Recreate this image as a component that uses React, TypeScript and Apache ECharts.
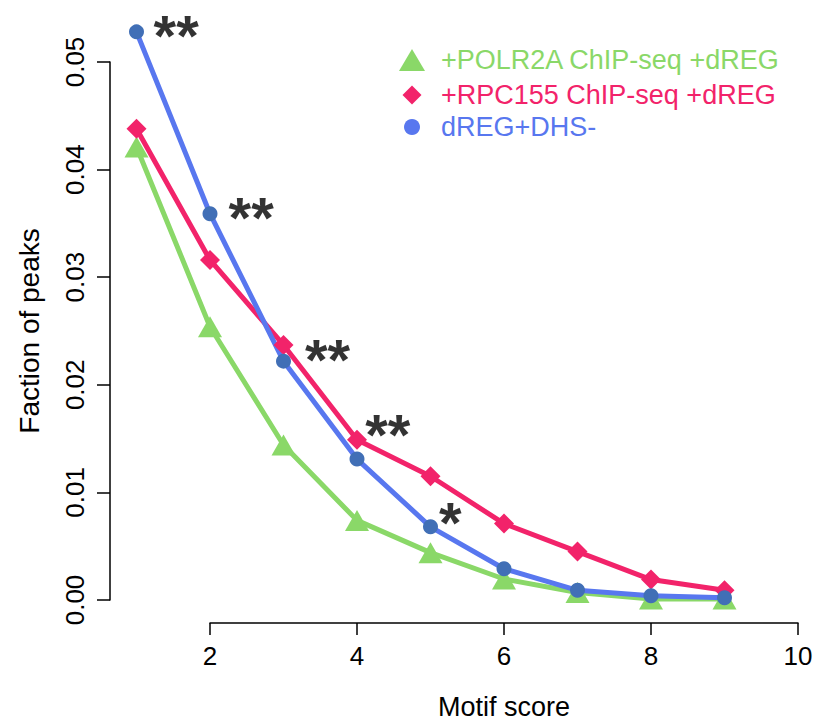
import React, { useEffect, useRef } from "react";
import * as echarts from "echarts";

const motifScores = [1, 2, 3, 4, 5, 6, 7, 8, 9];
const polr2aValues = [0.0421, 0.0254, 0.0144, 0.0074, 0.0044, 0.00195, 0.0007, 0.0001, 0.0001];
const rpc155Values = [0.0438, 0.0316, 0.0237, 0.0149, 0.0115, 0.0071, 0.0045, 0.0019, 0.0009];
const dregDhsValues = [0.0528, 0.0359, 0.0222, 0.0131, 0.0068, 0.0029, 0.0009, 0.0004, 0.0002];
const xTicks = { min: 2, max: 10, interval: 2 };
const yTicks = { min: 0, max: 0.05, interval: 0.01 };
const annotations = [
  { x: 1.54, y: 0.0537, text: "**" },
  { x: 2.56, y: 0.0368, text: "**" },
  { x: 3.6, y: 0.0236, text: "**" },
  { x: 4.42, y: 0.0166, text: "**" },
  { x: 5.27, y: 0.0084, text: "*" },
];
const seriesNames = ["+POLR2A ChIP-seq +dREG", "+RPC155 ChIP-seq +dREG", "dREG+DHS-"];

const GREEN = "#8ad868";
const RED = "#f2236a";
const BLUE = "#5877ef";
const BLUE_DARK = "#416fb6";
const FONT = "Liberation Sans, Arial, sans-serif";

export default function App() {
  const ref = useRef<HTMLDivElement>(null);
  useEffect(() => {
    if (!ref.current) return;
    const chart = echarts.init(ref.current, undefined, { renderer: "svg" });
    const pair = (vals: number[]) => motifScores.map((x, i) => [x, vals[i]]);
    const ICON_CX = 412;
    const TEXT_X = 441;
    const LINE_H = 28;
    const legendItem = (name: string, icon: string, color: string, w: number, h: number, centerY: number) => {
      const left = ICON_CX - w / 2;
      const pad = TEXT_X - (left + w + 5);
      return {
        orient: "vertical",
        left,
        top: centerY - LINE_H / 2,
        itemWidth: w,
        itemHeight: h,
        padding: 0,
        selectedMode: false,
        textStyle: { fontSize: 27, lineHeight: LINE_H, fontFamily: FONT, color, padding: [0, 0, 0, pad] },
        data: [{ name, icon, itemStyle: { color }, textStyle: { color } }],
      };
    };
    chart.setOption({
      animation: false,
      backgroundColor: "#ffffff",
      textStyle: { fontFamily: FONT },
      grid: [
        { left: 136.5, right: 19, top: 8.2, bottom: 121 },
        { left: 210, right: 19, bottom: 98, height: 1 },
        { left: 110, width: 1, top: 62, bottom: 121 },
      ],
      xAxis: [
        { gridIndex: 0, type: "value", min: 1, max: 10, show: false },
        {
          gridIndex: 1,
          type: "value",
          min: xTicks.min,
          max: xTicks.max,
          interval: xTicks.interval,
          position: "bottom",
          axisLine: { show: true, lineStyle: { color: "#000", width: 1.5 } },
          axisTick: { show: true, length: 12, lineStyle: { color: "#000", width: 1.5 } },
          axisLabel: { color: "#000", fontSize: 26, margin: 20, fontFamily: FONT },
          splitLine: { show: false },
          name: "Motif score",
          nameLocation: "middle",
          nameGap: 70,
          nameTextStyle: { color: "#000", fontSize: 27, fontFamily: FONT },
        },
        { gridIndex: 2, type: "value", show: false },
      ],
      yAxis: [
        { gridIndex: 0, type: "value", min: 0, max: 0.055, show: false },
        { gridIndex: 1, type: "value", show: false },
        {
          gridIndex: 2,
          type: "value",
          min: yTicks.min,
          max: yTicks.max,
          interval: yTicks.interval,
          position: "left",
          axisLine: { show: true, lineStyle: { color: "#000", width: 1.5 } },
          axisTick: { show: true, length: 13, lineStyle: { color: "#000", width: 1.5 } },
          axisLabel: {
            color: "#000",
            fontSize: 26,
            margin: 22,
            rotate: 90,
            fontFamily: FONT,
            formatter: (v: number) => v.toFixed(2),
          },
          splitLine: { show: false },
          name: "Faction of peaks",
          nameLocation: "middle",
          nameGap: 67,
          nameRotate: 90,
          nameTextStyle: { color: "#000", fontSize: 28, fontFamily: FONT },
        },
      ],
      legend: [
        legendItem(seriesNames[0], "triangle", GREEN, 26, 22, 60),
        legendItem(seriesNames[1], "diamond", RED, 19, 19, 95),
        legendItem(seriesNames[2], "circle", BLUE, 16, 16, 127),
      ],
      series: [
        {
          name: seriesNames[0],
          type: "line",
          xAxisIndex: 0,
          yAxisIndex: 0,
          data: pair(polr2aValues),
          symbol: "triangle",
          symbolSize: [24, 21],
          lineStyle: { color: GREEN, width: 5 },
          itemStyle: { color: GREEN },
          clip: false,
        },
        {
          name: seriesNames[1],
          type: "line",
          xAxisIndex: 0,
          yAxisIndex: 0,
          data: pair(rpc155Values),
          symbol: "diamond",
          symbolSize: [20, 20],
          lineStyle: { color: RED, width: 5 },
          itemStyle: { color: RED },
          clip: false,
        },
        {
          name: seriesNames[2],
          type: "line",
          xAxisIndex: 0,
          yAxisIndex: 0,
          data: pair(dregDhsValues),
          symbol: "circle",
          symbolSize: 15,
          lineStyle: { color: BLUE, width: 5 },
          itemStyle: { color: BLUE_DARK },
          clip: false,
        },
        {
          name: "annotations",
          type: "scatter",
          xAxisIndex: 0,
          yAxisIndex: 0,
          symbolSize: 0,
          silent: true,
          clip: false,
          data: annotations.map((a) => ({ value: [a.x, a.y], name: a.text })),
          label: {
            show: true,
            position: "inside",
            formatter: (p: any) => p.name,
            color: "#000",
            textBorderWidth: 0,
            fontSize: 58,
            fontWeight: "bold",
            fontFamily: FONT,
            offset: [0, 13],
          },
        },
      ],
    });
    return () => chart.dispose();
  }, []);
  return (
    <div
      ref={ref}
      style={{ position: "fixed", left: 0, top: 0, width: 817, height: 721, background: "#fff" }}
    />
  );
}
